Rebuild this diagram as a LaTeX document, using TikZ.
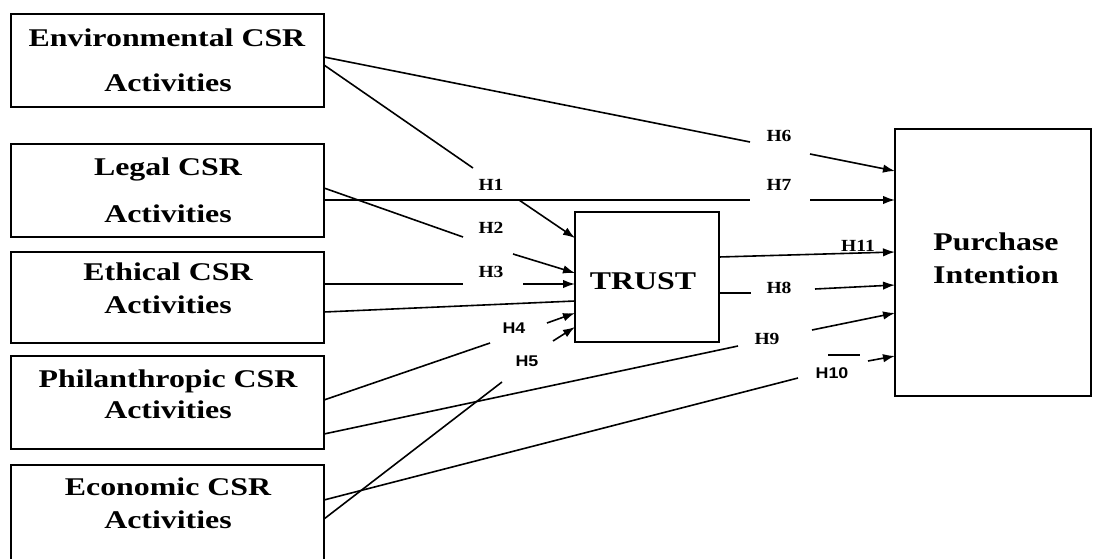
\documentclass[tikz,border=0pt]{standalone}
\usepackage{fontspec}
\usepackage{graphicx}
\setmainfont{Liberation Serif}
\newfontfamily\hsansfont{Liberation Sans}
\usetikzlibrary{arrows.meta}
\newcommand\wideTxt[1]{\scalebox{1.25}[1]{#1}}
\newcommand\wideH[1]{\scalebox{1.15}[1]{#1}}
\begin{document}
\begin{tikzpicture}[x=1pt,y=-1pt,
  box/.style={draw,line width=1.8pt,inner sep=0pt,outer sep=0pt},
  lbl/.style={anchor=base,inner sep=0pt,font=\fontsize{25.5}{30}\selectfont\bfseries},
  hl/.style={anchor=base,inner sep=0pt,font=\fontsize{17}{20}\selectfont\bfseries},
  hs/.style={anchor=base,inner sep=0pt,font=\hsansfont\fontsize{15.5}{18}\selectfont\bfseries},
  conn/.style={line width=1.6pt},
  arr/.style={line width=1.6pt,-{Latex[length=12pt,width=8.5pt]}}]
\useasboundingbox (0,0) rectangle (1094,559);
\clip (0,0) rectangle (1094,559);
\fill[white] (0,0) rectangle (1094,559);

% boxes
\node[box,minimum width=313pt,minimum height=93pt] (env) at (167.5,60.5) {};
\node[box,minimum width=313pt,minimum height=93pt] (leg) at (167.5,190.5) {};
\node[box,minimum width=313pt,minimum height=91pt] (eth) at (167.5,297.5) {};
\node[box,minimum width=313pt,minimum height=93pt] (phi) at (167.5,402.5) {};
\node[box,minimum width=313pt,minimum height=115pt] (eco) at (167.5,522.5) {};
\node[box,minimum width=144pt,minimum height=130pt] (tru) at (647,277) {};
\node[box,minimum width=196pt,minimum height=267pt] (pin) at (993,262.5) {};

% box texts
\node[lbl] (envA) at (167,46.5) {\wideTxt{Environmental CSR}};
\node[lbl] (envB) at (168,92) {\wideTxt{Activities}};
\node[lbl] (legA) at (168,175) {\wideTxt{Legal CSR}};
\node[lbl] (legB) at (168,222) {\wideTxt{Activities}};
\node[lbl] (ethA) at (168,280) {\wideTxt{Ethical CSR}};
\node[lbl] (ethB) at (168,313) {\wideTxt{Activities}};
\node[lbl] (phiA) at (168,387) {\wideTxt{Philanthropic CSR}};
\node[lbl] (phiB) at (168,418) {\wideTxt{Activities}};
\node[lbl] (ecoA) at (168,495) {\wideTxt{Economic CSR}};
\node[lbl] (ecoB) at (168,528) {\wideTxt{Activities}};
\node[lbl] (truT) at (643,289) {\wideTxt{TRUST}};
\node[lbl] (pinA) at (996,250) {\wideTxt{Purchase}};
\node[lbl] (pinB) at (996,283) {\wideTxt{Intention}};

% hypothesis labels
\node[hl] (H1) at (491,190) {\wideH{H1}};
\node[hl] (H2) at (491,233) {\wideH{H2}};
\node[hl] (H3) at (491,277) {\wideH{H3}};
\node[hs] (H4) at (514,333) {\wideH{H4}};
\node[hs] (H5) at (527,366) {\wideH{H5}};
\node[hl] (H6) at (779,141) {\wideH{H6}};
\node[hl] (H7) at (779,190) {\wideH{H7}};
\node[hl] (H11) at (858,251) {\wideH{H11}};
\node[hl] (H8) at (779,293) {\wideH{H8}};
\node[hl] (H9) at (767,344) {\wideH{H9}};
\node[hs] (H10) at (832,378) {\wideH{H10}};

% connector points
\coordinate (e6) at (324,57);   \coordinate (e6b) at (750,142);
\coordinate (e6c) at (810,154); \coordinate (p6) at (895,171);
\coordinate (e1) at (324,65);   \coordinate (e1b) at (473,168);
\coordinate (e1c) at (519,200); \coordinate (t1) at (575,238);
\coordinate (l7) at (324,200);  \coordinate (l7b) at (750,200);
\coordinate (l7c) at (810,200); \coordinate (p7) at (895,200);
\coordinate (l2) at (324,188);  \coordinate (l2b) at (463,237);
\coordinate (l2c) at (513,254); \coordinate (t2) at (575,273);
\coordinate (h3) at (324,284);  \coordinate (h3b) at (463,284);
\coordinate (h3c) at (523,284); \coordinate (t3) at (575,284);
\coordinate (ex) at (324,312);  \coordinate (tx) at (575,301);
\coordinate (h4) at (324,400);  \coordinate (h4b) at (490,343);
\coordinate (h4c) at (547,323); \coordinate (t4) at (575,313);
\coordinate (h5) at (324,519);  \coordinate (h5b) at (502,382);
\coordinate (h5c) at (553,341); \coordinate (t5) at (575,327);
\coordinate (h9) at (324,434);  \coordinate (h9b) at (738,346);
\coordinate (h9c) at (812,330); \coordinate (p9) at (895,313);
\coordinate (h10) at (324,500); \coordinate (h10b) at (798,378);
\coordinate (h10d) at (828,355); \coordinate (h10e) at (860,355);
\coordinate (h10c) at (868,361); \coordinate (p10) at (895,356);
\coordinate (h11) at (719,257); \coordinate (p11) at (895,252);
\coordinate (h8) at (719,293);  \coordinate (h8b) at (751,293);
\coordinate (h8c) at (815,289); \coordinate (p8) at (895,285);

% connectors
\draw[conn] (e6) -- (e6b);  \draw[arr] (e6c) -- (p6);
\draw[conn] (e1) -- (e1b);  \draw[arr] (e1c) -- (t1);
\draw[conn] (l7) -- (l7b);  \draw[arr] (l7c) -- (p7);
\draw[conn] (l2) -- (l2b);  \draw[arr] (l2c) -- (t2);
\draw[conn] (h3) -- (h3b);  \draw[arr] (h3c) -- (t3);
\draw[conn] (ex) -- (tx);
\draw[conn] (h4) -- (h4b);  \draw[arr] (h4c) -- (t4);
\draw[conn] (h5) -- (h5b);  \draw[arr] (h5c) -- (t5);
\draw[conn] (h9) -- (h9b);  \draw[arr] (h9c) -- (p9);
\draw[conn] (h10) -- (h10b); \draw[conn] (h10d) -- (h10e); \draw[arr] (h10c) -- (p10);
\draw[arr] (h11) -- (p11);
\draw[conn] (h8) -- (h8b);  \draw[arr] (h8c) -- (p8);
\end{tikzpicture}
\end{document}
